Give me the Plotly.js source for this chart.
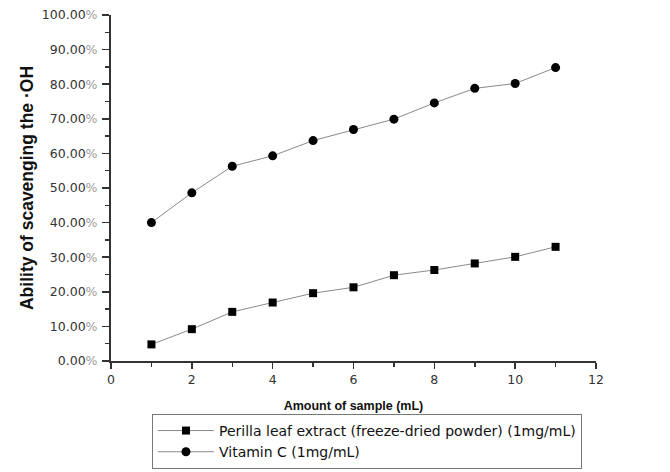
<!DOCTYPE html>
<html>
<head>
<meta charset="utf-8">
<script src="https://cdn.plot.ly/plotly-3.0.1.min.js"></script>
<style>html,body{margin:0;padding:0;background:#fff;}#chart{width:670px;height:472px;}</style>
</head>
<body>
<div id="chart"></div>
<script>
const amounts = [1, 2, 3, 4, 5, 6, 7, 8, 9, 10, 11];
const perillaValues = [4.8, 9.2, 14.2, 16.9, 19.6, 21.3, 24.8, 26.3, 28.2, 30.1, 33.0];
const vitaminCValues = [40.0, 48.6, 56.3, 59.3, 63.7, 66.9, 69.9, 74.6, 78.8, 80.2, 84.8];
const seriesNames = ['Perilla leaf extract (freeze-dried powder) (1mg/mL)', 'Vitamin C (1mg/mL)'];
const yTickVals = [0, 10, 20, 30, 40, 50, 60, 70, 80, 90, 100];
const yTickText = yTickVals.map(v => v.toFixed(2) + '<span style="color:#9a9a9a">%</span>');
const xTickVals = [0, 2, 4, 6, 8, 10, 12];

const lineStyle = {color: '#8a8a8a', width: 1};
const traces = [
  {x: amounts, y: perillaValues, name: seriesNames[0], mode: 'lines+markers', type: 'scatter',
   line: lineStyle, marker: {symbol: 'square', size: 8, color: '#000'}},
  {x: amounts, y: vitaminCValues, name: seriesNames[1], mode: 'lines+markers', type: 'scatter',
   line: lineStyle, marker: {symbol: 'circle', size: 9, color: '#000'}}
];

const tickFont = {family: 'DejaVu Sans, sans-serif', size: 12.5, color: '#333'};
const layout = {
  width: 670, height: 472,
  margin: {l: 111, r: 74, t: 15, b: 111, autoexpand: false},
  paper_bgcolor: '#fff', plot_bgcolor: '#fff',
  font: {family: 'Liberation Sans, Arial, sans-serif', color: '#333', size: 13},
  showlegend: true,
  legend: {
    x: 0.0845, y: -0.153, xanchor: 'left', yanchor: 'top',
    bordercolor: '#777', borderwidth: 1, bgcolor: '#fff',
    font: {family: 'DejaVu Sans, sans-serif', size: 14, color: '#111'},
    tracegroupgap: 0, itemwidth: 56
  },
  xaxis: {
    range: [0, 12], tickvals: xTickVals, ticks: 'outside', ticklen: 6, tickwidth: 1.5,
    tickcolor: '#333', showline: true, linecolor: '#333', linewidth: 2,
    showgrid: false, zeroline: false, tickfont: tickFont, ticklabelstandoff: 0,
    minor: {dtick: 1, tick0: 0, ticks: 'outside', ticklen: 4, tickcolor: '#333', showgrid: false},
    title: {text: '<b>Amount of sample (mL)</b>', font: {size: 12.5, color: '#111'}, standoff: 15}
  },
  yaxis: {
    range: [0, 100], tickvals: yTickVals, ticktext: yTickText, ticks: 'outside', ticklen: 7, tickwidth: 1.5,
    tickcolor: '#333', showline: true, linecolor: '#333', linewidth: 2,
    showgrid: false, zeroline: false, tickfont: tickFont, ticklabelstandoff: 2,
    minor: {dtick: 5, tick0: 0, ticks: 'outside', ticklen: 4, tickcolor: '#333', showgrid: false},
    title: {text: '<b>Ability of scavenging the ·OH</b>', font: {size: 17.5, color: '#111'}, standoff: 4}
  }
};

Plotly.newPlot('chart', traces, layout, {displayModeBar: false, staticPlot: true});
</script>
</body>
</html>
